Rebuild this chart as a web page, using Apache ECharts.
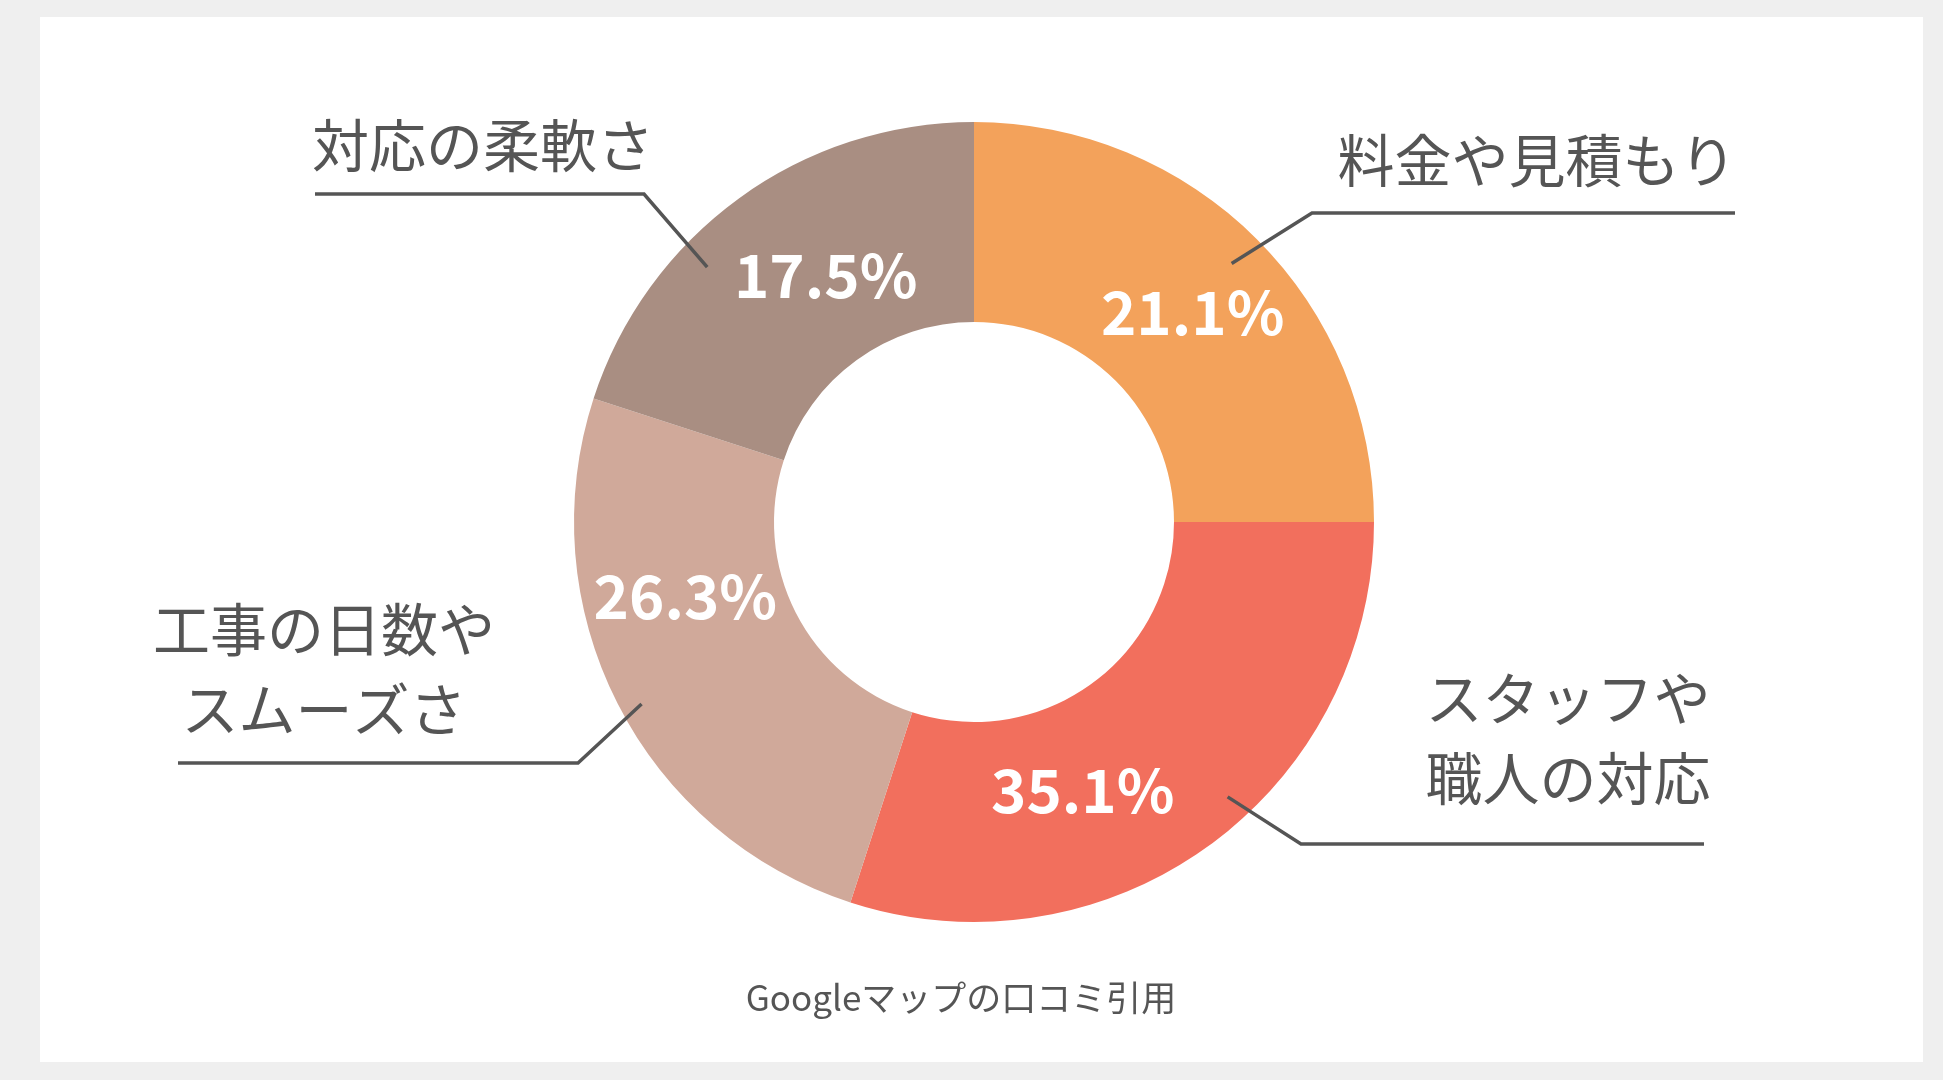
<!DOCTYPE html>
<html>
<head>
<meta charset="utf-8">
<title>Googleマップの口コミ引用</title>
<script src="https://cdn.jsdelivr.net/npm/echarts@6/dist/echarts.min.js"></script>
<style>
    html, body { margin: 0; padding: 0; background: #efefef; }
    #panel { position: absolute; left: 40px; top: 17px; width: 1883px; height: 1045px; background: #fff; }
    #main { position: absolute; left: 0; top: 0; width: 1943px; height: 1080px; }
</style>
</head>
<body>
<div id="panel"></div>
<div id="main"></div>
<script>
// categories, clockwise from 12 o'clock
var categories = ['料金や見積もり', 'スタッフや\n職人の対応', '工事の日数や\nスムーズさ', '対応の柔軟さ'];
// slice sizes as they are drawn in the picture (angle shares)
var sliceShares = [25, 30, 25, 20];
// the percentage texts printed on the slices
var percentTexts = ['21.1%', '35.1%', '26.3%', '17.5%'];
var sliceColors = ['#f3a25b', '#f26f5d', '#d0a99a', '#a98e82'];
var caption = 'Googleマップの口コミ引用';

var FONT = '"Noto Sans CJK JP", "Noto Sans", sans-serif';
var PIE_CENTER = [974, 522];

// [angle from 12 o'clock (deg), radius] for the percent texts
var percentSpots = [[46.2, 303], [157.9, 289], [255.6, 298], [329, 288]];
// callout: start of leader line (polar), elbow, end x of the rule, text centre
var callouts = [
    { start: [44.9, 365], elbow: [1312, 213], endX: 1735, text: [1537, 160] },
    { start: [137.3, 374], elbow: [1301, 844], endX: 1704, text: [1568, 738] },
    { start: [241.3, 379], elbow: [578, 763], endX: 178, text: [324, 669] },
    { start: [313.7, 369], elbow: [644, 194], endX: 315, text: [483, 145] }
];

function polar(angle, r) {
    var a = angle * Math.PI / 180;
    return [PIE_CENTER[0] + r * Math.sin(a), PIE_CENTER[1] - r * Math.cos(a)];
}

var pieData = categories.map(function (name, i) {
    return { name: name, value: sliceShares[i], itemStyle: { color: sliceColors[i] } };
});

var chart = echarts.init(document.getElementById('main'));
chart.setOption({
    animation: false,
    title: {
        text: caption,
        left: 961,
        top: 998,
        padding: 0,
        textAlign: 'center',
        textVerticalAlign: 'middle',
        textStyle: { fontFamily: FONT, fontSize: 35, fontWeight: 'normal', color: '#555' }
    },
    series: [
        {
            name: 'ring',
            type: 'pie',
            z: 2,
            center: PIE_CENTER,
            radius: [200, 400],
            startAngle: 90,
            clockwise: true,
            avoidLabelOverlap: false,
            emphasis: { disabled: true },
            itemStyle: { borderWidth: 0 },
            label: {
                show: true,
                position: 'inside',
                formatter: function (p) { return percentTexts[p.dataIndex]; },
                fontFamily: FONT,
                fontSize: 60,
                fontWeight: 'bold',
                color: '#fff'
            },
            labelLine: { show: false },
            labelLayout: function (p) {
                var pt = polar(percentSpots[p.dataIndex][0], percentSpots[p.dataIndex][1]);
                return { x: pt[0], y: pt[1], align: 'center', verticalAlign: 'middle' };
            },
            data: pieData
        },
        {
            name: 'callouts',
            type: 'pie',
            z: 5,
            center: PIE_CENTER,
            radius: [200, 400],
            startAngle: 90,
            clockwise: true,
            silent: true,
            avoidLabelOverlap: false,
            emphasis: { disabled: true },
            itemStyle: { color: 'rgba(0,0,0,0)', borderWidth: 0 },
            label: {
                show: true,
                position: 'outside',
                formatter: '{b}',
                fontFamily: FONT,
                fontSize: 57,
                lineHeight: 80,
                color: '#555'
            },
            labelLine: {
                show: true,
                length: 1,
                length2: 1,
                lineStyle: { color: '#555', width: 3.5 }
            },
            labelLayout: function (p) {
                var c = callouts[p.dataIndex];
                var s = polar(c.start[0], c.start[1]);
                return {
                    x: c.text[0],
                    y: c.text[1],
                    align: 'center',
                    verticalAlign: 'middle',
                    labelLinePoints: [s, [c.elbow[0], c.elbow[1]], [c.endX, c.elbow[1]]]
                };
            },
            data: categories.map(function (name, i) {
                return { name: name, value: sliceShares[i] };
            })
        }
    ]
});

window.addEventListener('resize', function () {
    chart.resize();
});
</script>
</body>
</html>
